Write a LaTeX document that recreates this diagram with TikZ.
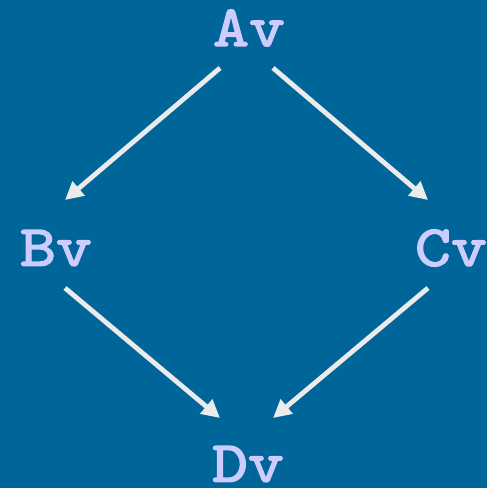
\documentclass[tikz,border=0pt]{standalone}
\usepackage{fontspec}
\newfontfamily\courb[FakeBold=2.5,FakeStretch=1.18]{lmmono10-regular.otf}
\usetikzlibrary{arrows.meta}
\definecolor{bgblue}{HTML}{006699}
\definecolor{lav}{HTML}{CCCCFF}
\definecolor{arrgray}{HTML}{EBEBEB}
\begin{document}
\begin{tikzpicture}[x=1pt,y=-1pt,
  lbl/.style={inner sep=0pt, text=lav, font=\fontsize{58}{58}\selectfont\courb},
  arr/.style={draw=arrgray, line width=4.8pt, -{Triangle[length=18pt,width=18pt]}}]
\fill[bgblue] (0,0) rectangle (487,488);
\useasboundingbox (0,0) rectangle (487,488);
\node[lbl] (A) at (249,28) {Av};
\node[lbl] (B) at (56,248) {Bv};
\node[lbl] (C) at (451,248) {Cv};
\node[lbl] (D) at (248,464) {Dv};
\draw[arr] ([shift={(-29,40)}]A.center) -- ([shift={(9,-48)}]B.center);
\draw[arr] ([shift={(24,40)}]A.center) -- ([shift={(-23,-48)}]C.center);
\draw[arr] ([shift={(9,40)}]B.center) -- ([shift={(-28,-46)}]D.center);
\draw[arr] ([shift={(-23,40)}]C.center) -- ([shift={(25,-46)}]D.center);
\end{tikzpicture}
\end{document}
